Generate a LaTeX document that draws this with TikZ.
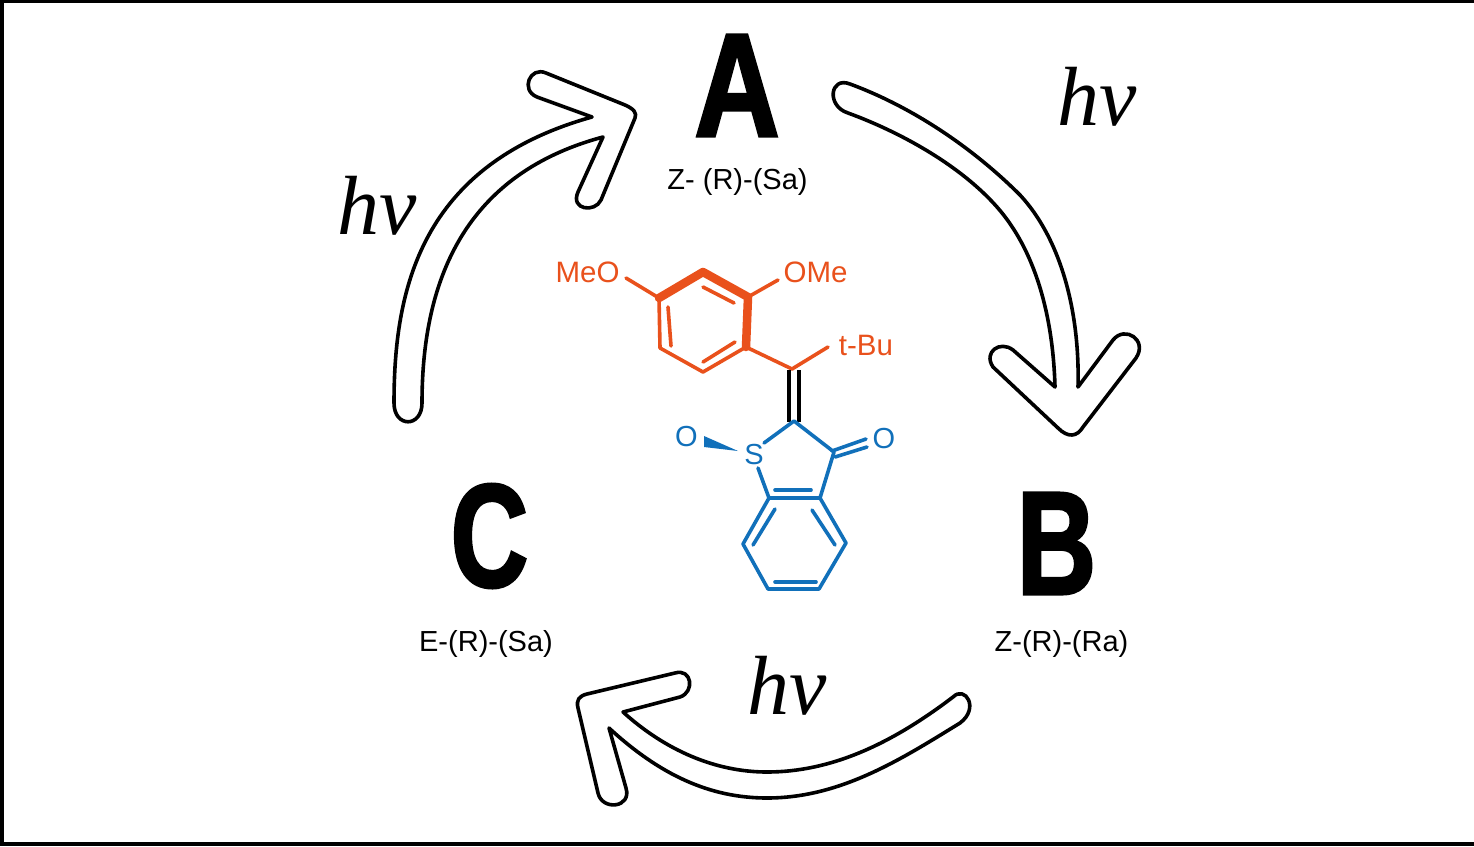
\documentclass[tikz,border=0pt]{standalone}
\usepackage{fontspec}
\setmainfont{Liberation Sans}
\newfontfamily\hvfont{Liberation Serif}
\newfontfamily\bigfont[FakeStretch=0.8,FakeBold=2]{Liberation Sans Bold}
\definecolor{orangeM}{HTML}{E9511C}
\definecolor{blueM}{HTML}{1170BA}
\tikzset{
  arrowoutline/.style={draw=black,line width=3.6pt,fill=white,line join=round},
  biglabel/.style={inner sep=0pt,font=\fontsize{147}{147}\bigfont,text=black},
  hvlabel/.style={inner sep=0pt,font=\fontsize{84}{84}\hvfont\itshape,text=black},
  statelabel/.style={inner sep=0pt,font=\fontsize{29}{30}\selectfont,text=black},
  orangetext/.style={inner sep=0pt,font=\fontsize{29.5}{30}\selectfont,text=orangeM},
  bluetext/.style={inner sep=0pt,font=\fontsize{29}{30}\selectfont,text=blueM},
  obond/.style={draw=orangeM,line width=3.6pt,line cap=round,line join=round},
  oboldbond/.style={draw=orangeM,line width=8.5pt,line cap=round,line join=round},
  bbond/.style={draw=blueM,line width=3.6pt,line cap=round,line join=round},
  kbond/.style={draw=black,line width=3.8pt},
}
\begin{document}
\begin{tikzpicture}[x=1pt,y=-1pt]
\useasboundingbox (0,0) rectangle (1474,846);
\fill[white] (0,0) rectangle (1474,846);
% frame: open on the right
\draw[line width=3.6pt] (1474,1.5) -- (1.8,1.5) -- (1.8,843.8) -- (1474,843.8);
% arrows
\draw[arrowoutline] (394,403) .. controls (394,290) and (420,165) .. (592,117)
  -- (537,97) .. controls (520,90) and (530,66) .. (546,73)
  -- (625,105) .. controls (634,109) and (637,113) .. (635,118)
  -- (601,200) .. controls (595,213) and (570,210) .. (578,192)
  -- (603,137) .. controls (480,170) and (422,260) .. (422,403)
  .. controls (422,428) and (394,428) .. (394,403) -- cycle;
\draw[arrowoutline] (850,84) .. controls (915,108) and (975,150) .. (1020,195)
  .. controls (1060,238) and (1080,310) .. (1078,387)
  -- (1113,340) .. controls (1125,325) and (1148,340) .. (1136,358)
  -- (1083,427) .. controls (1077,437) and (1068,438) .. (1058,428)
  -- (993,367) .. controls (983,352) and (1000,340) .. (1013,350)
  -- (1055,387) .. controls (1053,315) and (1035,250) .. (997,207)
  .. controls (960,165) and (900,132) .. (848,113)
  .. controls (826,106) and (830,76) .. (850,84) -- cycle;
\draw[arrowoutline] (953,697) .. controls (890,745) and (830,772) .. (767,772)
  .. controls (715,772) and (665,750) .. (623,712)
  -- (680,697) .. controls (695,692) and (692,668) .. (675,673)
  -- (587,694) .. controls (579,696) and (576,700) .. (578,708)
  -- (598,793) .. controls (602,811) and (632,808) .. (626,788)
  -- (609,728) .. controls (660,775) and (710,798) .. (767,798)
  .. controls (840,798) and (900,760) .. (960,723)
  .. controls (980,708) and (965,685) .. (953,697) -- cycle;
% labels
\node[biglabel] (A) at (737,85.5) {A};
\node[biglabel] (B) at (1056.5,543.5) {\scalebox{0.93}[1]{B}};
\node[biglabel] (C) at (489.5,536) {\scalebox{0.91}[1]{C}};
\node[statelabel] (sA) at (737.5,182) {Z- (R)-(Sa)};
\node[statelabel] (sB) at (1061.5,644) {Z-(R)-(Ra)};
\node[statelabel] (sC) at (486,644) {E-(R)-(Sa)};
\node[hvlabel] (hv1) at (1097,97) {hv};
\node[hvlabel] (hv2) at (377,206) {hv};
\node[hvlabel] (hv3) at (787,686) {hv};
% molecule atoms
\coordinate (r1) at (659,298); \coordinate (r2) at (703,272); \coordinate (r3) at (748,297);
\coordinate (r4) at (746,347); \coordinate (r5) at (703,372); \coordinate (r6) at (660,348);
\coordinate (cv) at (792,369); \coordinate (c2) at (794,421);
\coordinate (tb) at (828,347); \coordinate (c3) at (834,452);
\coordinate (a1) at (769,498); \coordinate (a2) at (820,498); \coordinate (a3) at (846,543);
\coordinate (a4) at (819,589); \coordinate (a5) at (768,589); \coordinate (a6) at (743,544);
\coordinate (mb) at (626,278); \coordinate (ob) at (778,280);
\node[orangetext] (meo) at (587.5,272.5) {MeO};
\node[orangetext] (ome) at (815.5,272.5) {OMe};
\node[orangetext] (tbu) at (866,345.5) {t-Bu};
\node[bluetext] (oL) at (686.5,436.5) {O};
\node[bluetext] (sS) at (754,455) {S};
\node[bluetext] (oR) at (884,438.5) {O};
% orange bonds
\draw[oboldbond] (r1) -- (r2) -- (r3) -- (r4);
\draw[obond] (r4) -- (r5) -- (r6) -- (r1);
\draw[obond] (668,307) -- (671,346);
\draw[obond] (703,362) -- (735,342);
\draw[obond] (703,287) -- (734,303);
\draw[obond] (r1) -- (mb);
\draw[obond] (r3) -- (ob);
\draw[obond] (r4) -- (cv) -- (tb);
% C=C
\draw[kbond] (789,370) -- (789,422);
\draw[kbond] (799,370) -- (799,422);
% blue bonds
\draw[bbond] (764,443) -- (c2) -- (c3) -- (a2);
\draw[bbond] (758,468) -- (a1);
\draw[bbond] (a1) -- (a2) -- (a3) -- (a4) -- (a5) -- (a6) -- cycle;
\draw[bbond] (775,490) -- (811,490);
\draw[bbond] (812,510) -- (835,545);
\draw[bbond] (775,582) -- (816,582);
\draw[bbond] (775,509) -- (753,545);
\draw[bbond] (832,451) -- (866,439);
\draw[bbond] (835,457) -- (867,447);
\fill[blueM] (704,436) -- (738,451) -- (704,447) -- cycle;
\end{tikzpicture}
\end{document}
